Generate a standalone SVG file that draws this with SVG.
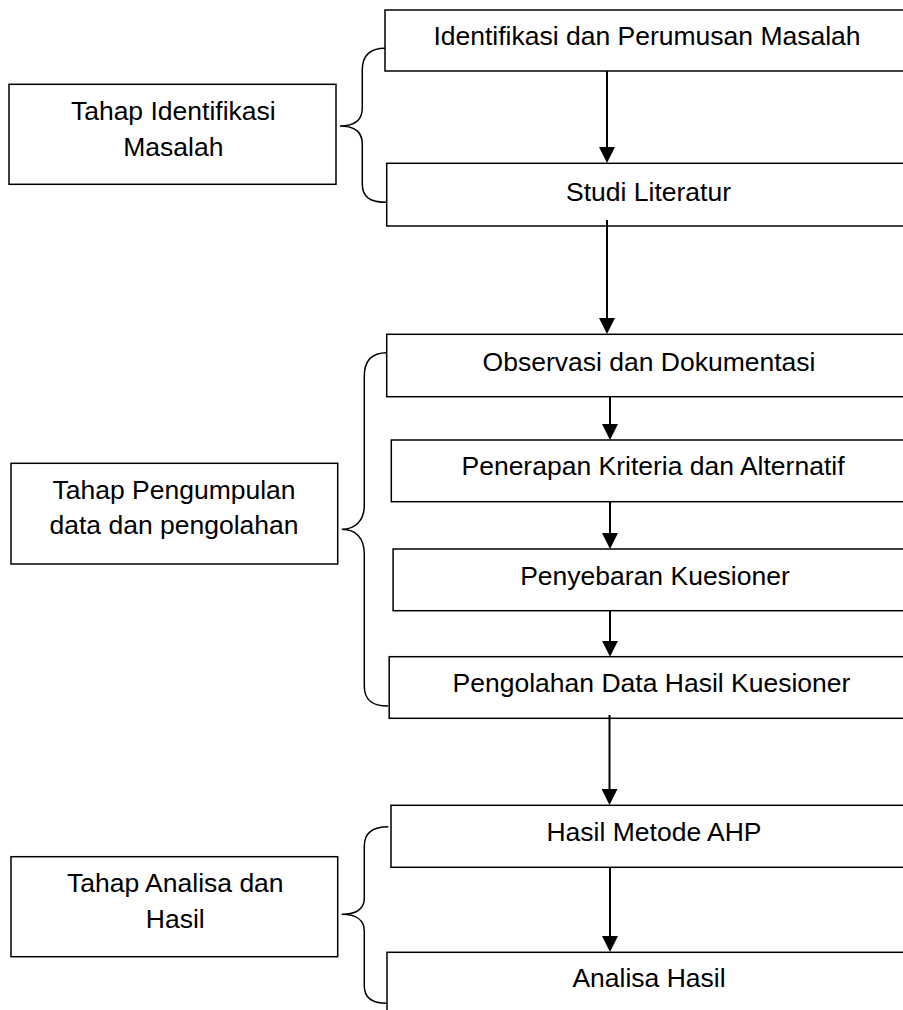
<svg xmlns="http://www.w3.org/2000/svg" width="903" height="1010" viewBox="0 0 903 1010">
<style>
.box{fill:#fff;stroke:#000;stroke-width:1.5}
.brace{fill:none;stroke:#000;stroke-width:1.5}
.conn{stroke:#000;stroke-width:2;fill:none}
text{font-family:"Liberation Sans",Arial,sans-serif;font-size:26.5px;fill:#000;text-anchor:middle}
</style>
<defs>
<marker id="ah" markerWidth="16" markerHeight="16" refX="8" refY="8" orient="auto" markerUnits="userSpaceOnUse">
<path d="M0,0 L16,8 L0,16 z" fill="#000"/>
</marker>
</defs>
<rect width="903" height="1010" fill="#fff"/>
<g id="n-identifikasi"><rect class="box" x="385" y="10" width="540" height="61"/><text x="647" y="45">Identifikasi dan Perumusan Masalah</text></g>
<g id="n-studi"><rect class="box" x="386.7" y="163.3" width="540" height="62.7"/><text x="648.5" y="201">Studi Literatur</text></g>
<g id="n-observasi"><rect class="box" x="386.7" y="334.3" width="540" height="62.4"/><text x="649" y="370.7">Observasi dan Dokumentasi</text></g>
<g id="n-penerapan"><rect class="box" x="391.3" y="440" width="540" height="61.7"/><text x="653" y="475">Penerapan Kriteria dan Alternatif</text></g>
<g id="n-penyebaran"><rect class="box" x="393.1" y="549" width="540" height="61.7"/><text x="655" y="585">Penyebaran Kuesioner</text></g>
<g id="n-pengolahan"><rect class="box" x="389.2" y="656.7" width="540" height="61.6"/><text x="651.5" y="691.7">Pengolahan Data Hasil Kuesioner</text></g>
<g id="n-hasil"><rect class="box" x="391" y="805.3" width="540" height="62"/><text x="654" y="840.7">Hasil Metode AHP</text></g>
<g id="n-analisa"><rect class="box" x="387" y="952.3" width="540" height="80"/><text x="649" y="986.7">Analisa Hasil</text></g>
<g id="n-tahap1"><rect class="box" x="9" y="84.3" width="327" height="100"/><text x="173.3" y="120">Tahap Identifikasi</text><text x="173.3" y="156">Masalah</text></g>
<g id="n-tahap2"><rect class="box" x="11" y="463.3" width="326.7" height="100.7"/><text x="174" y="499">Tahap Pengumpulan</text><text x="174" y="534.3">data dan pengolahan</text></g>
<g id="n-tahap3"><rect class="box" x="11" y="856.7" width="326.7" height="100"/><text x="175.3" y="892.4">Tahap Analisa dan</text><text x="175.3" y="928.4">Hasil</text></g>
<g id="braces">
<path class="brace" d="M385,48.3 C369,48.3 362.3,56 362.3,70 L362.3,108 C362.3,120 354,126 340,126 C354,126 362.3,132 362.3,144 L362.3,184 C362.3,197 370,202.3 386.7,202.3"/>
<path class="brace" d="M386.7,352.7 C371,352.7 364.3,361 364.3,376 L364.3,505 C364.3,520 356,529.3 341.7,529.3 C356,529.3 364.3,538 364.3,554 L364.3,686 C364.3,700 372,706 388,706"/>
<path class="brace" d="M388.3,826.7 C372,826.7 364.3,833 364.3,846 L364.3,898 C364.3,909 356,914.3 341.7,914.3 C356,914.3 364.3,920 364.3,931 L364.3,986 C364.3,998 372,1003.3 386.7,1003.3"/>
</g>
<g id="connectors">
<line class="conn" x1="607" y1="71" x2="607" y2="155" marker-end="url(#ah)"/>
<line class="conn" x1="607" y1="220" x2="607" y2="326" marker-end="url(#ah)"/>
<line class="conn" x1="610" y1="397" x2="610" y2="432" marker-end="url(#ah)"/>
<line class="conn" x1="610" y1="502" x2="610" y2="541" marker-end="url(#ah)"/>
<line class="conn" x1="610" y1="611" x2="610" y2="648.7" marker-end="url(#ah)"/>
<line class="conn" x1="609.5" y1="715" x2="609.5" y2="797" marker-end="url(#ah)"/>
<line class="conn" x1="610" y1="867" x2="610" y2="944" marker-end="url(#ah)"/>
</g>
</svg>
